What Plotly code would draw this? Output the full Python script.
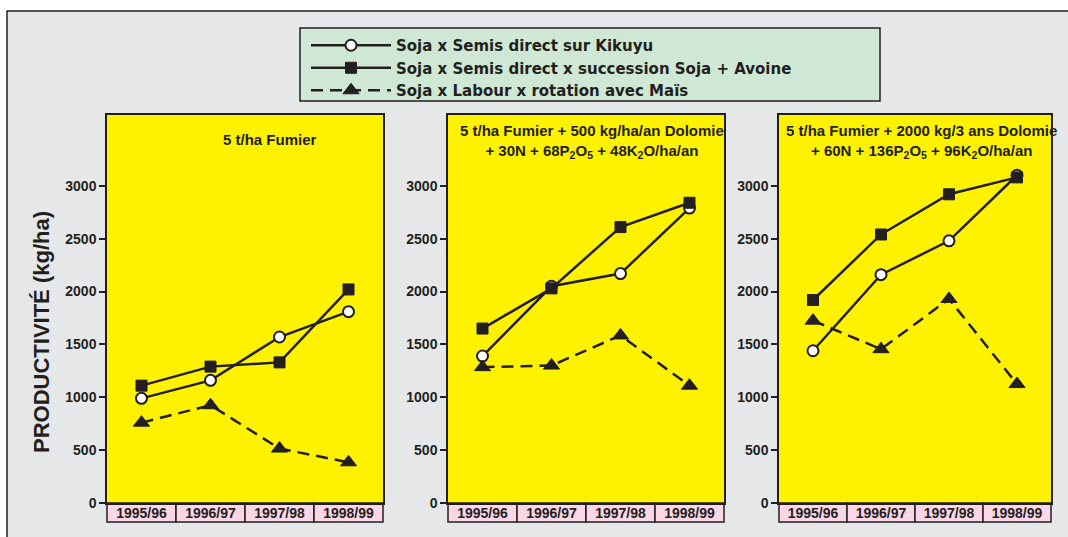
import plotly.graph_objects as go

# ---------------- data ----------------
categories = ["1995/96", "1996/97", "1997/98", "1998/99"]
y_ticks = [0, 500, 1000, 1500, 2000, 2500, 3000]

series_names = [
    "Soja x Semis direct sur Kikuyu",
    "Soja x Semis direct x succession Soja + Avoine",
    "Soja x Labour x rotation avec Maïs",
]

kikuyu_p1 = [990, 1160, 1570, 1810]
succ_p1 = [1110, 1290, 1330, 2020]
labour_p1 = [760, 925, 515, 385]

kikuyu_p2 = [1390, 2050, 2170, 2790]
succ_p2 = [1650, 2030, 2610, 2840]
labour_p2 = [1285, 1300, 1585, 1110]

kikuyu_p3 = [1440, 2160, 2480, 3100]
succ_p3 = [1920, 2540, 2920, 3080]
labour_p3 = [1725, 1455, 1930, 1125]

panel_titles = [
    "5 t/ha Fumier",
    "5 t/ha Fumier + 500 kg/ha/an Dolomie<br>+ 30N + 68P<sub>2</sub>O<sub>5</sub> + 48K<sub>2</sub>O/ha/an",
    "5 t/ha Fumier + 2000 kg/3 ans Dolomie<br>+ 60N + 136P<sub>2</sub>O<sub>5</sub> + 96K<sub>2</sub>O/ha/an",
]
y_title = "PRODUCTIVITÉ (kg/ha)"

panels = [
    (kikuyu_p1, succ_p1, labour_p1),
    (kikuyu_p2, succ_p2, labour_p2),
    (kikuyu_p3, succ_p3, labour_p3),
]

# ---------------- layout helpers ----------------
W, H = 1068, 537
def px(x):
    return x / W
def py(y):
    return 1 - y / H

DARK = "#231f20"
YELLOW = "#fff200"
PINK = "#fbd6e6"
GRAY = "#e6e7e8"
GREEN = "#cfe8d5"
SANS = "Liberation Sans, Arial, Helvetica, sans-serif"

x_domains = [(107, 383), (448, 724), (779, 1051)]
y_domain = [py(503), py(115)]

fig = go.Figure()

styles = [
    dict(mode="lines+markers", line=dict(color=DARK, width=2.5),
         marker=dict(symbol="circle", size=11, color="white", line=dict(color=DARK, width=2))),
    dict(mode="lines+markers", line=dict(color=DARK, width=2.5),
         marker=dict(symbol="square", size=11, color=DARK, line=dict(color=DARK, width=1))),
    dict(mode="lines+markers", line=dict(color=DARK, width=2.5, dash="12px,7px"),
         marker=dict(symbol="triangle-up", size=14, color=DARK, line=dict(color=DARK, width=1))),
]

for p, series in enumerate(panels):
    xa = "x" if p == 0 else f"x{p+1}"
    ya = "y" if p == 0 else f"y{p+1}"
    for s, vals in enumerate(series):
        fig.add_trace(go.Scatter(
            x=list(range(len(categories))), y=vals, name=series_names[s],
            xaxis=xa, yaxis=ya, showlegend=(p == 0), **styles[s]))

shapes = []
# white margins top/left + frame
shapes.append(dict(type="rect", xref="paper", yref="paper", x0=-0.01, x1=1.01, y0=py(11), y1=1.01,
                   fillcolor="white", line=dict(width=0), layer="below"))
shapes.append(dict(type="rect", xref="paper", yref="paper", x0=-0.01, x1=px(7), y0=-0.01, y1=1.01,
                   fillcolor="white", line=dict(width=0), layer="below"))
shapes.append(dict(type="rect", xref="paper", yref="paper", x0=px(7), x1=1.05, y0=-0.05, y1=py(11),
                   fillcolor="rgba(0,0,0,0)", line=dict(color=DARK, width=1.5), layer="below"))
# legend box
shapes.append(dict(type="rect", xref="paper", yref="paper", x0=px(300), x1=px(880), y0=py(101), y1=py(28),
                   fillcolor=GREEN, line=dict(color=DARK, width=1.5), layer="below"))

annotations = []
title_centers = [(270, 139), (592, 141), (921, 141)]
for p in range(3):
    xa = "x" if p == 0 else f"x{p+1}"
    for i in range(len(categories)):
        shapes.append(dict(type="rect", xref=f"{xa} domain", yref="paper",
                           x0=i / len(categories), x1=(i + 1) / len(categories),
                           y0=py(522), y1=py(503), fillcolor=PINK,
                           line=dict(color=DARK, width=1.5), layer="below"))
    cx, cy = title_centers[p]
    annotations.append(dict(text=panel_titles[p], xref="paper", yref="paper", x=px(cx), y=py(cy),
                            xanchor="center", yanchor="middle", showarrow=False,
                            font=dict(family=SANS, size=15, color=DARK, weight="bold")))

annotations.append(dict(text=y_title, xref="paper", yref="paper", x=px(41), y=py(332),
                        textangle=-90, showarrow=False, xanchor="center", yanchor="middle",
                        font=dict(family=SANS, size=22, color=DARK, weight="bold")))

layout = dict(
    width=W, height=H, autosize=False,
    margin=dict(l=0, r=0, t=0, b=0, autoexpand=False),
    paper_bgcolor=GRAY,
    plot_bgcolor=YELLOW,
    shapes=shapes,
    annotations=annotations,
    showlegend=True,
    legend=dict(x=px(306), y=py(29), xanchor="left", yanchor="top",
                bgcolor="rgba(0,0,0,0)", borderwidth=0, itemwidth=80,
                tracegroupgap=0,
                font=dict(family="DejaVu Sans, Liberation Sans, sans-serif", size=15,
                          color=DARK, weight="bold")),
)

for p in range(3):
    xkey = "xaxis" if p == 0 else f"xaxis{p+1}"
    ykey = "yaxis" if p == 0 else f"yaxis{p+1}"
    yname = "y" if p == 0 else f"y{p+1}"
    xname = "x" if p == 0 else f"x{p+1}"
    layout[xkey] = dict(
        domain=[px(x_domains[p][0]), px(x_domains[p][1])], anchor=yname,
        range=[-0.5, 3.5], tickvals=list(range(len(categories))), ticktext=categories,
        showgrid=False, zeroline=False, showline=True, mirror=True, automargin=False,
        linecolor=DARK, linewidth=1.5, ticks="", ticklabelstandoff=-4,
        tickfont=dict(family=SANS, size=14, color=DARK, weight="bold"),
        fixedrange=True)
    layout[ykey] = dict(
        domain=y_domain, anchor=xname,
        range=[0, 3670], tickvals=y_ticks,
        showgrid=False, zeroline=False, showline=True, mirror=True, automargin=False,
        linecolor=DARK, linewidth=1.5, ticks="outside", ticklen=6,
        tickcolor=DARK, tickwidth=1.5,
        tickfont=dict(family=SANS, size=14, color=DARK, weight="bold"),
        fixedrange=True)

fig.update_layout(**layout)
fig.write_html("out.html", config={"responsive": False, "displayModeBar": False},
               post_script="document.body.style.margin='0';")
